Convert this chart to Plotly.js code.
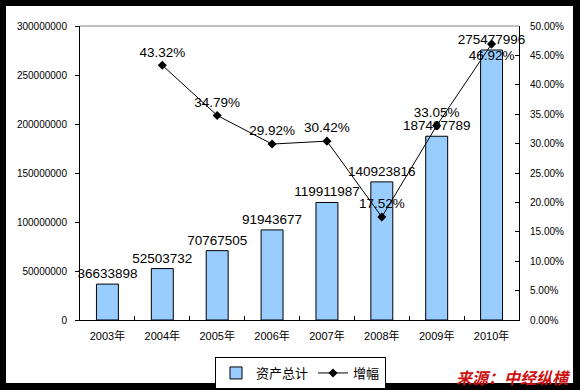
<!DOCTYPE html>
<html><head><meta charset="utf-8">
<script src="https://cdn.plot.ly/plotly-3.0.1.min.js"></script>
<style>html,body{margin:0;padding:0;background:#000;}#chart{width:580px;height:390px;}</style>
</head><body><div id="chart"></div>
<script>
const years = ["2003年","2004年","2005年","2006年","2007年","2008年","2009年","2010年"];
const assets = [36633898, 52503732, 70767505, 91943677, 119911987, 140923816, 187497789, 275477996];
const growthYears = ["2004年","2005年","2006年","2007年","2008年","2009年","2010年"];
const growth = [43.32, 34.79, 29.92, 30.42, 17.52, 33.05, 46.92];
const growthLabelPos = ["top center","top center","top center","top center","top center","top center","bottom center"];
const seriesNames = ["资产总计", "增幅"];

const W = 580, H = 390, L = 80, R = 61, T = 26, B = 70;
const pw = W - L - R, ph = H - T - B;
const px = x => (x - L) / pw;
const py = y => (H - B - y) / ph;

const labelFont = {family: "Liberation Sans, Arial, sans-serif", size: 13.5, color: "#000"};

const traces = [
  {
    type: "bar", x: years, y: assets, name: seriesNames[0],
    marker: {color: "#99CCFF", line: {color: "#000", width: 1}},
    text: assets.map(String), textposition: "outside", constraintext: "none",
    cliponaxis: false, textfont: labelFont, hoverinfo: "skip"
  },
  {
    type: "scatter", mode: "lines+markers+text", x: growthYears, y: growth, yaxis: "y2",
    name: seriesNames[1],
    line: {color: "#000", width: 1},
    marker: {symbol: "diamond", size: 7, color: "#000"},
    text: growth.map(v => v.toFixed(2) + "%"), textposition: growthLabelPos,
    textfont: labelFont, cliponaxis: false, hoverinfo: "skip"
  }
];

const tickFont = {family: "Liberation Sans, Arial, sans-serif", size: 10, color: "#000"};

const layout = {
  width: W, height: H,
  margin: {l: L, r: R, t: T, b: B, pad: 0, autoexpand: false},
  paper_bgcolor: "#000", plot_bgcolor: "#fff",
  bargap: 0.6,
  showlegend: true,
  legend: {
    orientation: "h", x: px(215), xanchor: "left", y: py(357), yanchor: "top",
    bgcolor: "#fff", bordercolor: "#000", borderwidth: 1,
    font: {family: "Noto Sans CJK SC, sans-serif", size: 13, color: "#000"},
    itemwidth: 30, tracegroupgap: 0
  },
  xaxis: {
    type: "category", showline: true, linecolor: "#000", linewidth: 1,
    ticks: "inside", tickson: "boundaries", ticklen: 4, tickcolor: "#000",
    ticklabelstandoff: 6,
    tickfont: {family: "Liberation Sans, Noto Sans CJK SC, sans-serif", size: 11, color: "#000"},
    showgrid: false, zeroline: false, fixedrange: true
  },
  yaxis: {
    range: [0, 300000000], dtick: 50000000, tickformat: "d",
    showline: true, linecolor: "#000", linewidth: 1,
    ticks: "outside", ticklen: 4, tickcolor: "#000", ticklabelstandoff: 6,
    tickfont: tickFont, showgrid: false, zeroline: false
  },
  yaxis2: {
    overlaying: "y", side: "right", range: [0, 50], dtick: 5,
    tickformat: ".2f", ticksuffix: "%",
    showline: true, linecolor: "#000", linewidth: 1,
    ticks: "inside", ticklen: 4, tickcolor: "#000", ticklabelstandoff: 8,
    tickfont: tickFont, showgrid: false, zeroline: false
  },
  shapes: [
    {type: "rect", xref: "paper", yref: "paper", x0: px(6), x1: px(573), y0: py(383), y1: py(6),
     fillcolor: "#fff", line: {width: 0}, layer: "below"},
    {type: "line", xref: "paper", yref: "paper", x0: 0, x1: 1, y0: 1, y1: 1,
     line: {color: "#808080", width: 1}}
  ],
  annotations: [
    {xref: "paper", yref: "paper", x: px(573), y: py(377), xanchor: "right", yanchor: "middle",
     text: "<b><i>来源：中经纵横</i></b>", showarrow: false,
     font: {family: "Noto Sans CJK SC, sans-serif", size: 16, color: "#CC1111"}}
  ]
};

Plotly.newPlot("chart", traces, layout, {displayModeBar: false, staticPlot: true});
</script></body></html>
